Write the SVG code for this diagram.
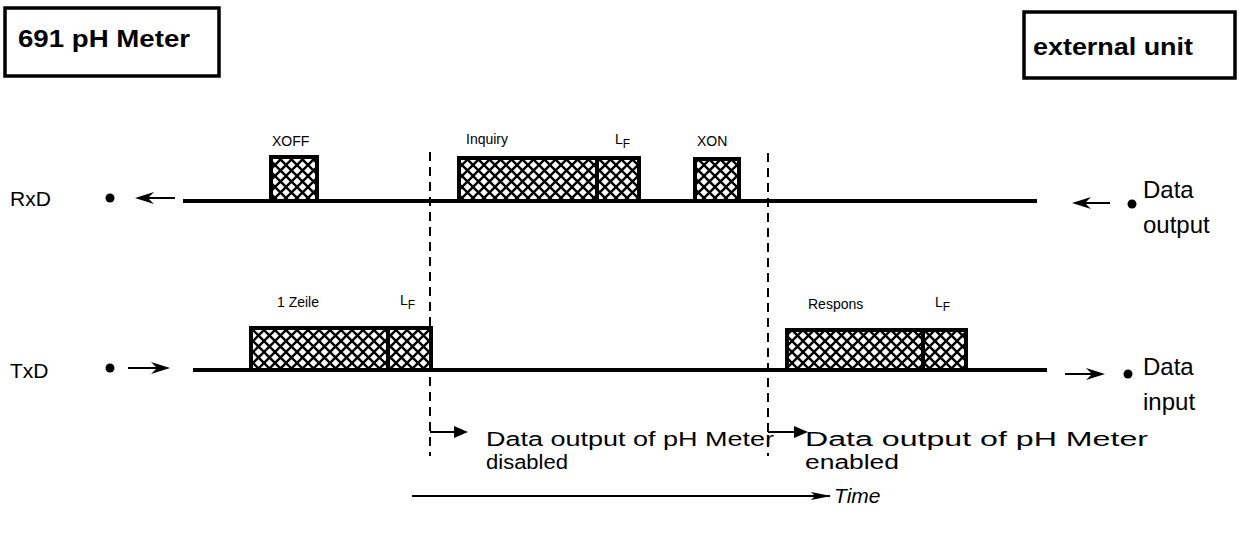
<svg xmlns="http://www.w3.org/2000/svg" width="1239" height="533" viewBox="0 0 1239 533">
<style>
text{font-family:"Liberation Sans",Arial,sans-serif;fill:#000}
.title{font-weight:bold;font-size:24px}
.sig{font-size:21px}
.small{font-size:14px}
.big{font-size:24px}
.note{font-size:20px}
.box{fill:#fff;stroke:#000;stroke-width:3.5}
.blk{fill:url(#hatch);stroke:#000;stroke-width:4}
.line{stroke:#000;stroke-width:4;fill:none}
.dash{stroke:#000;stroke-width:2;stroke-dasharray:9 6;fill:none}
.thin{stroke:#000;stroke-width:2;fill:none}
.head{fill:#000;stroke:none}
</style>
<defs>
<pattern id="hatch" patternUnits="userSpaceOnUse" width="11" height="11">
<rect width="11" height="11" fill="#fff"/>
<path d="M-1,-1 L12,12 M-1,12 L12,-1" stroke="#000" stroke-width="2.4"/>
</pattern>
<marker id="tri" viewBox="0 0 14 12" refX="12" refY="6" markerWidth="14" markerHeight="12" markerUnits="userSpaceOnUse" orient="auto">
<path d="M0,0 L14,6 L0,12 Z" fill="#000"/>
</marker>
<marker id="slim" viewBox="0 0 20 8" refX="19" refY="4" markerWidth="20" markerHeight="8" markerUnits="userSpaceOnUse" orient="auto">
<path d="M0,0 L20,4 L0,8 L4,4 Z" fill="#000"/>
</marker>
</defs>

<g id="meter">
<rect class="box" x="5" y="8" width="214" height="68"/>
<text class="title" x="18" y="47" textLength="172" lengthAdjust="spacingAndGlyphs">691 pH Meter</text>
</g>
<g id="external">
<rect class="box" x="1024" y="12" width="211" height="66"/>
<text class="title" x="1033" y="55" textLength="160" lengthAdjust="spacingAndGlyphs">external unit</text>
</g>

<g id="rxd">
<text class="sig" x="10" y="206">RxD</text>
<circle cx="110" cy="198" r="4.5"/>
</g>
<g id="txd">
<text class="sig" x="10" y="378">TxD</text>
<circle cx="110" cy="368" r="4.5"/>
</g>
<g id="data-output">
<circle cx="1132" cy="204" r="4.5"/>
<text class="big" x="1143" y="198">Data</text>
<text class="big" x="1143" y="233">output</text>
</g>
<g id="data-input">
<circle cx="1128" cy="374" r="4.5"/>
<text class="big" x="1143" y="375">Data</text>
<text class="big" x="1143" y="410">input</text>
</g>

<g id="connectors">
<line class="line" x1="183" y1="201" x2="1037" y2="201"/>
<line class="line" x1="193" y1="370" x2="1047" y2="370"/>
<line class="thin" x1="142" y1="198" x2="175" y2="198"/>
<path class="head" d="M135,198 L154,192 L148,198 L154,204 Z"/>
<line class="thin" x1="1079" y1="203" x2="1110" y2="203"/>
<path class="head" d="M1072,203 L1091,197 L1085,203 L1091,209 Z"/>
<line class="thin" x1="128" y1="368" x2="163" y2="368"/>
<path class="head" d="M170,368 L151,362 L157,368 L151,374 Z"/>
<line class="thin" x1="1065" y1="374" x2="1098" y2="374"/>
<path class="head" d="M1105,374 L1086,368 L1092,374 L1086,380 Z"/>
<line class="dash" x1="430" y1="152" x2="430" y2="456"/>
<line class="dash" x1="768" y1="153" x2="768" y2="456"/>
<line class="thin" x1="430" y1="432" x2="466" y2="432" marker-end="url(#tri)"/>
<line class="thin" x1="768" y1="432" x2="806" y2="432" marker-end="url(#tri)"/>
<line class="thin" x1="412" y1="496" x2="830" y2="496" marker-end="url(#slim)"/>
</g>

<g id="xoff">
<rect class="blk" x="271" y="157" width="46" height="44"/>
<text class="small" x="272" y="146">XOFF</text>
</g>
<g id="inquiry">
<rect class="blk" x="459" y="158" width="138" height="43"/>
<text class="small" x="466" y="144">Inquiry</text>
</g>
<g id="lf-inquiry">
<rect class="blk" x="597" y="158" width="42" height="43"/>
<text class="small" x="615" y="144" font-size="15">L<tspan font-size="12" dy="4">F</tspan></text>
</g>
<g id="xon">
<rect class="blk" x="695" y="159" width="44" height="42"/>
<text class="small" x="697" y="146">XON</text>
</g>
<g id="zeile">
<rect class="blk" x="251" y="328" width="137" height="42"/>
<text class="small" x="277" y="307">1 Zeile</text>
</g>
<g id="lf-zeile">
<rect class="blk" x="388" y="328" width="43" height="42"/>
<text class="small" x="400" y="305" font-size="15">L<tspan font-size="12" dy="4">F</tspan></text>
</g>
<g id="respons">
<rect class="blk" x="787" y="330" width="136" height="40"/>
<text class="small" x="808" y="309">Respons</text>
</g>
<g id="lf-respons">
<rect class="blk" x="923" y="330" width="43" height="40"/>
<text class="small" x="935" y="307" font-size="15">L<tspan font-size="12" dy="4">F</tspan></text>
</g>

<g id="disabled">
<text class="note" x="486" y="446" textLength="288" lengthAdjust="spacingAndGlyphs">Data output of pH Meter</text>
<text class="note" x="486" y="469" textLength="82" lengthAdjust="spacingAndGlyphs">disabled</text>
</g>
<g id="enabled">
<text class="note" x="805" y="446" textLength="343" lengthAdjust="spacingAndGlyphs">Data output of pH Meter</text>
<text class="note" x="805" y="469" textLength="94" lengthAdjust="spacingAndGlyphs">enabled</text>
</g>
<g id="time">
<text class="sig" x="834" y="503" font-style="italic">Time</text>
</g>
</svg>
